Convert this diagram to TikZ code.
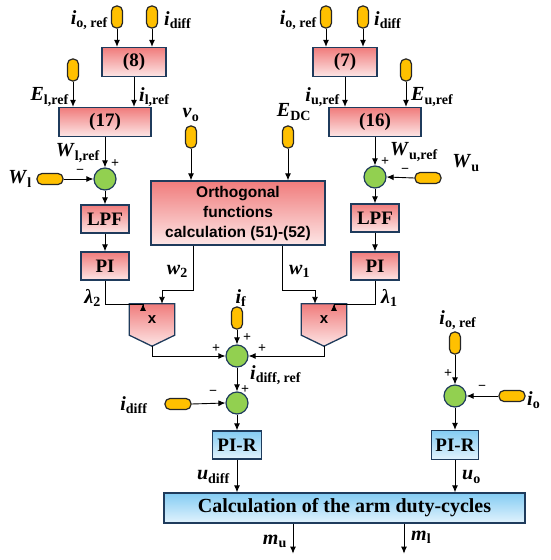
\documentclass[tikz,border=0pt]{standalone}
\usepackage{fontspec}
\setmainfont{Liberation Serif}
\newfontfamily\orthfont{Liberation Sans}
\usepackage{xcolor}
\usepackage{tikz}
\usetikzlibrary{arrows.meta,positioning,calc}

\definecolor{navy}{HTML}{1F3B5C}
\definecolor{pinktop}{HTML}{F07C7C}
\definecolor{pinkbot}{HTML}{FDE6E6}
\definecolor{bluetop}{HTML}{84CCF3}
\definecolor{bluebot}{HTML}{E2F3FD}
\definecolor{gold}{HTML}{FFC000}
\definecolor{leaf}{HTML}{92D050}

\newcommand{\vr}[2]{\textbf{\textit{#1}}\textsubscript{\textbf{#2}}}

\begin{document}
\begin{tikzpicture}[
  x=1pt, y=-1pt,
  font=\fontsize{20}{22}\selectfont,
  blk/.style  ={draw=navy, line width=1.3pt, top color=pinktop, bottom color=pinkbot,
                inner sep=0pt, font=\fontsize{19}{22}\selectfont\bfseries},
  blu/.style  ={blk, top color=bluetop, bottom color=bluebot},
  pill/.style ={draw=black!85, fill=gold, line width=1.2pt, rounded corners=5pt,
                minimum width=11pt, minimum height=22pt, inner sep=0pt},
  hpill/.style={pill, minimum width=26pt, minimum height=11pt},
  sumc/.style ={circle, draw=navy, fill=leaf, line width=1.2pt,
                minimum size=22pt, inner sep=0pt},
  mul/.style  ={minimum width=45pt, minimum height=31pt, inner sep=0pt},
  multx/.style={font=\orthfont\fontsize{15}{18}\selectfont\bfseries},
  lbl/.style  ={inner sep=1pt, font=\fontsize{20}{22}\selectfont},
  sgn/.style  ={inner sep=0pt, font=\fontsize{14}{16}\selectfont\bfseries},
  ar/.style   ={-{Latex[length=7pt,width=6pt]}, line width=0.9pt},
]
\useasboundingbox (0,0) rectangle (550,560);

% ---------------- lower arm energy branch ---------------------------------
\node[pill] (pioL) at (117,17) {};
\node[pill] (pidL) at (152,17) {};
\node[lbl, anchor=east] at (109,20) {\vr{i}{o, ref}};
\node[lbl, anchor=west] at (163,20) {\vr{i}{diff}};

\node[blk, minimum width=64pt, minimum height=29pt] (b8) at (134,62) {(8)};
\draw[ar] (pioL.south) -- (pioL.south |- b8.north);
\draw[ar] (pidL.south) -- (pidL.south |- b8.north);

\node[pill] (pEl) at (73,70) {};
\node[blk, minimum width=92pt, minimum height=29pt] (b17) at (105,122) {(17)};
\draw[ar] (pEl.south) -- (pEl.south |- b17.north);
\draw[ar] (b8.south) -- (b8.south |- b17.north);
\node[lbl, anchor=east] at (70,97) {\vr{E}{l,ref}};
\node[lbl, anchor=west] at (138,97) {\vr{i}{l,ref}};

\node[sumc] (sL) at (105,179) {};
\draw[ar] (b17.south) -- (sL.north);
\node[lbl, anchor=east] at (101,153) {\vr{W}{l,ref}};
\node[sgn] at (115,164) {+};

\node[hpill] (pWl) at (50,179) {};
\node[lbl] at (20,179) {\vr{W}{l}};
\draw[ar] (pWl.east) -- (sL.west);
\node[sgn] at (80,172) {−};

\node[blk, minimum width=48pt, minimum height=28pt] (lpfL) at (105,219) {LPF};
\node[blk, minimum width=48pt, minimum height=28pt] (piL)  at (105,266) {PI};
\draw[ar] (sL.south) -- (lpfL.north);
\draw[ar] (lpfL.south) -- (piL.north);
\node[lbl, anchor=east] at (102,298) {\textbf{\textit{λ}}\textsubscript{\textbf{2}}};

% ---------------- orthogonal functions ------------------------------------
\node[pill] (pvo)  at (191,137) {};
\node[pill] (pEdc) at (288,137) {};
\node[lbl] at (191,115) {\vr{v}{o}};
\node[lbl] at (294,112) {\vr{E}{DC}};
\node[blk, minimum width=174pt, minimum height=64pt, align=center,
      font=\orthfont\fontsize{15.5}{20}\selectfont\bfseries] (orth) at (238,213)
  {Orthogonal\\functions\\calculation (51)-(52)};
\draw[ar] (pvo.south) -- (pvo.south |- orth.north);
\draw[ar] (pEdc.south) -- (pEdc.south |- orth.north);

% ---------------- multipliers ---------------------------------------------
\node[mul] (mulL) at (152,319.5) {};
\node[mul] (mulR) at (324,319.5) {};
\coordinate (tipL) at ($(mulL.south)+(0,11)$);
\coordinate (tipR) at ($(mulR.south)+(0,11)$);
\shade[draw=navy, line width=1.3pt, top color=pinktop, bottom color=pinkbot]
  (mulL.north west) -- (mulL.north east) -- (mulL.south east) -- (tipL)
  -- (mulL.south west) -- cycle;
\shade[draw=navy, line width=1.3pt, top color=pinktop, bottom color=pinkbot]
  (mulR.north west) -- (mulR.north east) -- (mulR.south east) -- (tipR)
  -- (mulR.south west) -- cycle;
\node[multx] (mulLx) at (mulL) {x};
\node[multx] (mulRx) at (mulR) {x};

\draw[ar] (piL.south) -- ++(0,24) -| ([xshift=-9pt]mulL.north);
\draw[ar] ([xshift=-45pt]orth.south) -- ++(0,45) -| ([xshift=10pt]mulL.north);
\node[lbl, anchor=east] at (189,271) {\vr{w}{2}};
\draw[ar] ([xshift=44pt]orth.south) -- ++(0,45) -| ([xshift=-9pt]mulR.north);
\node[lbl, anchor=west] at (288,271) {\vr{w}{1}};

% ---------------- upper arm energy branch ---------------------------------
\node[pill] (pioR) at (326,17) {};
\node[pill] (pidR) at (363,17) {};
\node[lbl, anchor=east] at (318,20) {\vr{i}{o, ref}};
\node[lbl, anchor=west] at (373,20) {\vr{i}{diff}};

\node[blk, minimum width=64pt, minimum height=29pt] (b7) at (345,62) {(7)};
\draw[ar] (pioR.south) -- (pioR.south |- b7.north);
\draw[ar] (pidR.south) -- (pidR.south |- b7.north);

\node[pill] (pEu) at (406,70) {};
\node[blk, minimum width=92pt, minimum height=29pt] (b16) at (375,122) {(16)};
\draw[ar] (pEu.south) -- (pEu.south |- b16.north);
\draw[ar] (b7.south) -- (b7.south |- b16.north);
\node[lbl, anchor=east] at (341,97) {\vr{i}{u,ref}};
\node[lbl, anchor=west] at (410,97) {\vr{E}{u,ref}};

\node[sumc] (sR) at (375,177) {};
\draw[ar] (b16.south) -- (sR.north);
\node[lbl, anchor=west] at (389,152) {\vr{W}{u,ref}};
\node[sgn] at (385,162) {+};

\node[hpill] (pWu) at (428,178) {};
\node[lbl] at (466,163) {\vr{W}{u}};
\draw[ar] (pWu.west) -- (sR.east);
\node[sgn] at (405,171) {−};

\node[blk, minimum width=48pt, minimum height=28pt] (lpfR) at (375,218) {LPF};
\node[blk, minimum width=48pt, minimum height=28pt] (piR)  at (375,266) {PI};
\draw[ar] (sR.south) -- (lpfR.north);
\draw[ar] (lpfR.south) -- (piR.north);
\node[lbl, anchor=west] at (380,298) {\textbf{\textit{λ}}\textsubscript{\textbf{1}}};
\draw[ar] (piR.south) -- ++(0,24) -| ([xshift=10pt]mulR.north);

% ---------------- circulating current reference ---------------------------
\node[pill] (pif) at (237,318) {};
\node[lbl] at (241,298) {\vr{i}{f}};
\node[sumc] (sC) at (237,356) {};
\draw[ar] (pif.south) -- (sC.north);
\node[sgn] at (247,338) {+};
\draw[ar] (tipL) |- (sC.west);
\draw[ar] (tipR) |- (sC.east);
\node[sgn] at (216,349) {+};
\node[sgn] at (262,349) {+};

\node[sumc] (sD) at (237,403) {};
\draw[ar] (sC.south) -- (sD.north);
\node[lbl, anchor=west] at (249,375) {\vr{i}{diff, ref}};
\node[sgn] at (245,390) {+};
\node[hpill] (pidf) at (178,404) {};
\node[lbl] at (134,405) {\vr{i}{diff}};
\draw[ar] (pidf.east) -- (sD.west);
\node[sgn] at (213,393) {−};

\node[blu, minimum width=49pt, minimum height=28pt] (pirL) at (237,445) {PI-R};
\draw[ar] (sD.south) -- (pirL.north);

% ---------------- output current ------------------------------------------
\node[pill] (pioO) at (455,343) {};
\node[lbl] at (458,320) {\vr{i}{o, ref}};
\node[sumc] (sE) at (455,396) {};
\draw[ar] (pioO.south) -- (sE.north);
\node[sgn] at (448,374) {+};
\node[hpill] (pio) at (512,396) {};
\node[lbl, anchor=west] at (526,400) {\vr{i}{o}};
\draw[ar] (pio.west) -- (sE.east);
\node[sgn] at (482,388) {−};

\node[blu, minimum width=47pt, minimum height=29pt] (pirR) at (455,445) {PI-R};
\draw[ar] (sE.south) -- (pirR.north);

% ---------------- duty cycles ---------------------------------------------
\node[blu, minimum width=361pt, minimum height=30pt,
      font=\fontsize{20}{22}\selectfont\bfseries] (calc) at (344.5,508)
  {Calculation of the arm duty-cycles};
\draw[ar] (pirL.south) -- (pirL.south |- calc.north);
\draw[ar] (pirR.south) -- (pirR.south |- calc.north);
\node[lbl, anchor=east] at (231,477) {\vr{u}{diff}};
\node[lbl, anchor=west] at (461,477) {\vr{u}{o}};

\draw[ar] ([xshift=-51.5pt]calc.south) -- ++(0,30);
\draw[ar] ([xshift=59.5pt]calc.south) -- ++(0,30);
\node[lbl, anchor=east] at (288,541) {\vr{m}{u}};
\node[lbl, anchor=west] at (410,537) {\vr{m}{l}};

\end{tikzpicture}
\end{document}
